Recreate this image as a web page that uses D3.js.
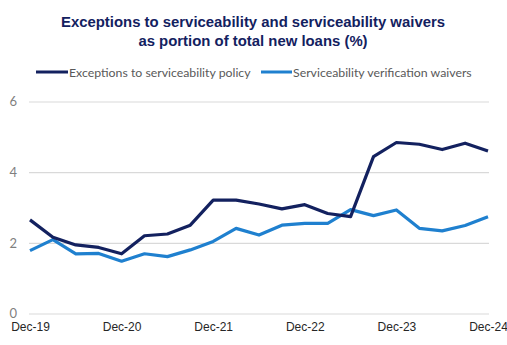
<!DOCTYPE html>
<html><head><meta charset="utf-8">
<script src="https://cdn.jsdelivr.net/npm/d3@7"></script>
<style>body{margin:0;background:#fff}svg{display:block}</style>
</head><body>
<svg id="c" width="507" height="345"></svg>
<script>
const categories = ["Dec-19","Mar-20","Jun-20","Sep-20","Dec-20","Mar-21","Jun-21","Sep-21","Dec-21","Mar-22","Jun-22","Sep-22","Dec-22","Mar-23","Jun-23","Sep-23","Dec-23","Mar-24","Jun-24","Sep-24","Dec-24"];
const exceptions = [2.65,2.16,1.94,1.87,1.69,2.2,2.25,2.5,3.21,3.21,3.1,2.96,3.08,2.83,2.74,4.44,4.84,4.79,4.64,4.82,4.6];
const waivers = [1.78,2.09,1.69,1.7,1.48,1.69,1.61,1.8,2.04,2.41,2.22,2.5,2.55,2.55,2.94,2.77,2.93,2.41,2.34,2.49,2.74];
const xTickLabels = ["Dec-19","Dec-20","Dec-21","Dec-22","Dec-23","Dec-24"];
const yTicks = [0,2,4,6];
const seriesNames = ["Exceptions to serviceability policy","Serviceability verification waivers"];
const colors = ["#13215f","#1f80cf"];

const svg = d3.select("#c");
const x = d3.scalePoint().domain(categories).range([30,488]);
const y = d3.scaleLinear().domain([0,6]).range([313.5,101.5]);

// title
const title = svg.append("text").attr("text-anchor","middle")
  .attr("font-family","Liberation Sans, Arial, sans-serif").attr("font-weight","bold")
  .attr("font-size",14.9).attr("fill","#13215f");
title.append("tspan").attr("x",253).attr("y",27).text("Exceptions to serviceability and serviceability waivers");
title.append("tspan").attr("x",253).attr("y",46).text("as portion of total new loans (%)");

// legend
const leg = [{x1:36,x2:68,tx:69},{x1:261,x2:292,tx:293}];
leg.forEach((l,i)=>{
  svg.append("line").attr("x1",l.x1).attr("x2",l.x2).attr("y1",72).attr("y2",72)
    .attr("stroke",colors[i]).attr("stroke-width",3);
  svg.append("text").attr("x",l.tx).attr("y",76.5).attr("font-family","Lato, Open Sans, sans-serif")
    .attr("font-size",12.3).attr("fill","#595959").text(seriesNames[i]);
});

// grid
const yAxis = d3.axisLeft(y).tickValues(yTicks).tickSize(-460).tickPadding(10).tickFormat(d3.format("d"));
const gy = svg.append("g").attr("transform","translate(29,0)").call(yAxis);
gy.select(".domain").remove();
gy.selectAll(".tick line").attr("stroke","#d9d9d9").attr("stroke-width",1.2);
gy.selectAll(".tick text").attr("font-family","Lato, Open Sans, sans-serif").attr("font-size",13)
  .attr("fill","#7f7f7f").attr("x",-12).attr("dy","0.32em");

// x axis
const xAxis = d3.axisBottom(x).tickValues(xTickLabels).tickSize(0).tickPadding(0);
const gx = svg.append("g").attr("transform","translate(0,322)").call(xAxis);
gx.select(".domain").remove();
gx.selectAll(".tick text").attr("font-family","Liberation Sans, Arial, sans-serif").attr("font-size",12)
  .attr("fill","#262626").attr("dy","0.71em");

// lines
const line = d3.line().x((d,i)=>x(categories[i])).y(d=>y(d));
[waivers, exceptions].forEach((s,k)=>{
  const ci = k===0?1:0;
  svg.append("path").datum(s).attr("d",line).attr("fill","none")
    .attr("stroke",colors[ci]).attr("stroke-width",3.2).attr("stroke-linejoin","round");
});
</script>
</body></html>
